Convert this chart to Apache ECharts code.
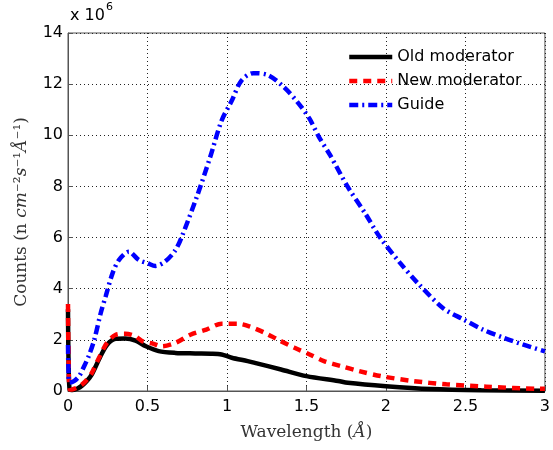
<!DOCTYPE html>
<html>
<head>
<meta charset="utf-8">
<script src="https://cdn.jsdelivr.net/npm/echarts@6/dist/echarts.min.js"></script>
<style>
  html, body { margin: 0; padding: 0; background: #fff; }
  #main { width: 553px; height: 450px; }
</style>
</head>
<body>
<div id="main"></div>
<script>
// 数据（单位 x 10^6）
var oldX = [0, 0.004, 0.012, 0.03, 0.06, 0.09, 0.12, 0.15, 0.2, 0.245, 0.3, 0.36, 0.425, 0.49, 0.57, 0.675, 0.8, 0.9, 0.966, 1.03, 1.13, 1.175, 1.34, 1.5, 1.7, 1.76, 2.0, 2.28, 2.6, 3.0];
var oldY = [3.2, 1.0, 0.05, 0.04, 0.1, 0.22, 0.4, 0.65, 1.3, 1.8, 2.04, 2.05, 1.97, 1.75, 1.56, 1.49, 1.47, 1.46, 1.43, 1.3, 1.17, 1.1, 0.84, 0.58, 0.39, 0.32, 0.19, 0.08, 0.03, 0.01];

var newX = [0, 0.004, 0.012, 0.03, 0.06, 0.09, 0.12, 0.15, 0.2, 0.245, 0.3, 0.36, 0.425, 0.466, 0.53, 0.59, 0.675, 0.77, 0.87, 0.966, 1.07, 1.14, 1.24, 1.32, 1.425, 1.52, 1.61, 1.72, 1.83, 1.97, 2.17, 2.38, 2.63, 2.97, 3.0];
var newY = [3.4, 1.1, 0.06, 0.07, 0.14, 0.26, 0.45, 0.71, 1.36, 1.88, 2.2, 2.24, 2.14, 1.95, 1.86, 1.75, 1.88, 2.2, 2.4, 2.63, 2.63, 2.53, 2.27, 2.01, 1.69, 1.43, 1.17, 0.97, 0.78, 0.58, 0.39, 0.26, 0.17, 0.09, 0.09];

var guideX = [0, 0.004, 0.01, 0.04, 0.07, 0.1, 0.13, 0.165, 0.206, 0.237, 0.28, 0.32, 0.383, 0.446, 0.5, 0.55, 0.61, 0.675, 0.72, 0.81, 0.894, 0.966, 1.03, 1.09, 1.165, 1.26, 1.36, 1.446, 1.52, 1.58, 1.65, 1.76, 1.87, 1.96, 2.09, 2.2, 2.36, 2.49, 2.61, 2.74, 2.86, 3.0];
var guideY = [1.8, 0.6, 0.33, 0.4, 0.58, 0.95, 1.36, 2.0, 3.05, 3.7, 4.6, 5.12, 5.45, 5.12, 5.0, 4.89, 5.06, 5.5, 6.1, 7.59, 9.14, 10.57, 11.35, 12.13, 12.43, 12.35, 11.87, 11.28, 10.64, 9.92, 9.21, 7.98, 6.94, 6.03, 5.0, 4.22, 3.24, 2.79, 2.4, 2.08, 1.82, 1.55];

var xTicks = ['0', '0.5', '1', '1.5', '2', '2.5', '3'];
var seriesNames = ['Old moderator', 'New moderator', 'Guide'];

function pairs(xs, ys) {
    var out = [];
    for (var i = 0; i < xs.length; i++) out.push([xs[i], ys[i]]);
    return out;
}

var main = document.getElementById('main');
var myChart = echarts.init(main);

var gridLine = { show: true, lineStyle: { color: '#222', width: 1, type: [1, 3] } };
var sans = 'DejaVu Sans, Liberation Sans, sans-serif';
var serif = 'DejaVu Serif, Liberation Serif, serif';

var option = {
    backgroundColor: '#fff',
    animation: false,
    grid: {
        left: 68, right: 5, top: 33, bottom: 59,
        show: true, borderColor: '#555', borderWidth: 1
    },
    legend: {
        orient: 'vertical',
        left: 342,
        top: 44,
        itemWidth: 43,
        itemHeight: 14,
        itemGap: 8,
        // 隐藏图例里的圆点
        itemStyle: { opacity: 0 },
        lineStyle: { width: 4.5 },
        data: seriesNames,
        textStyle: { fontFamily: sans, fontSize: 16, color: '#000' }
    },
    xAxis: {
        type: 'value',
        min: 0, max: 3, interval: 0.5,
        name: '{t|Wavelength (}{i|Å}{t|)}',
        nameLocation: 'middle',
        nameGap: 33,
        nameTextStyle: {
            rich: {
                t: { fontFamily: serif, fontSize: 17, color: '#333' },
                i: { fontFamily: serif, fontSize: 17, fontStyle: 'italic', color: '#333' }
            }
        },
        axisLine: { show: true, lineStyle: { color: '#555', width: 1 } },
        axisTick: { show: true, inside: true, length: 5, lineStyle: { color: '#555' } },
        axisLabel: {
            fontFamily: sans, fontSize: 16, color: '#000', margin: 8,
            formatter: function (v) { return xTicks[Math.round(v * 2)]; }
        },
        splitLine: gridLine
    },
    yAxis: {
        type: 'value',
        min: 0, max: 14, interval: 2,
        name: '{t|Counts (n }{i|cm}{t|⁻²}{i|s}{t|⁻¹}{i|Å}{t|⁻¹)}',
        nameLocation: 'middle',
        nameGap: 38,
        nameTextStyle: {
            rich: {
                t: { fontFamily: serif, fontSize: 17, color: '#333' },
                i: { fontFamily: serif, fontSize: 17, fontStyle: 'italic', color: '#333' }
            }
        },
        axisLine: { show: true, lineStyle: { color: '#555', width: 1 } },
        axisTick: { show: true, inside: true, length: 5, lineStyle: { color: '#555' } },
        axisLabel: { fontFamily: sans, fontSize: 16, color: '#000', margin: 5 },
        splitLine: gridLine
    },
    graphic: [
        { type: 'text', left: 70, top: 8, style: { text: 'x 10', fontFamily: sans, fontSize: 16, fill: '#000' } },
        { type: 'text', left: 106, top: 2, style: { text: '6', fontFamily: sans, fontSize: 11, fill: '#000' } }
    ],
    series: [
        {
            name: seriesNames[0], type: 'line', symbol: 'none', smooth: 0.3,
            lineStyle: { color: '#000', width: 4.5 },
            itemStyle: { color: '#000' },
            data: pairs(oldX, oldY)
        },
        {
            name: seriesNames[1], type: 'line', symbol: 'none', smooth: 0.3,
            lineStyle: { color: '#ff0000', width: 4.5, type: [8, 6] },
            itemStyle: { color: '#ff0000' },
            data: pairs(newX, newY)
        },
        {
            name: seriesNames[2], type: 'line', symbol: 'none', smooth: 0.3,
            lineStyle: { color: '#0000ff', width: 4.5, type: [9, 4, 2, 4] },
            itemStyle: { color: '#0000ff' },
            data: pairs(guideX, guideY)
        }
    ]
};

myChart.setOption(option);
</script>
</body>
</html>
